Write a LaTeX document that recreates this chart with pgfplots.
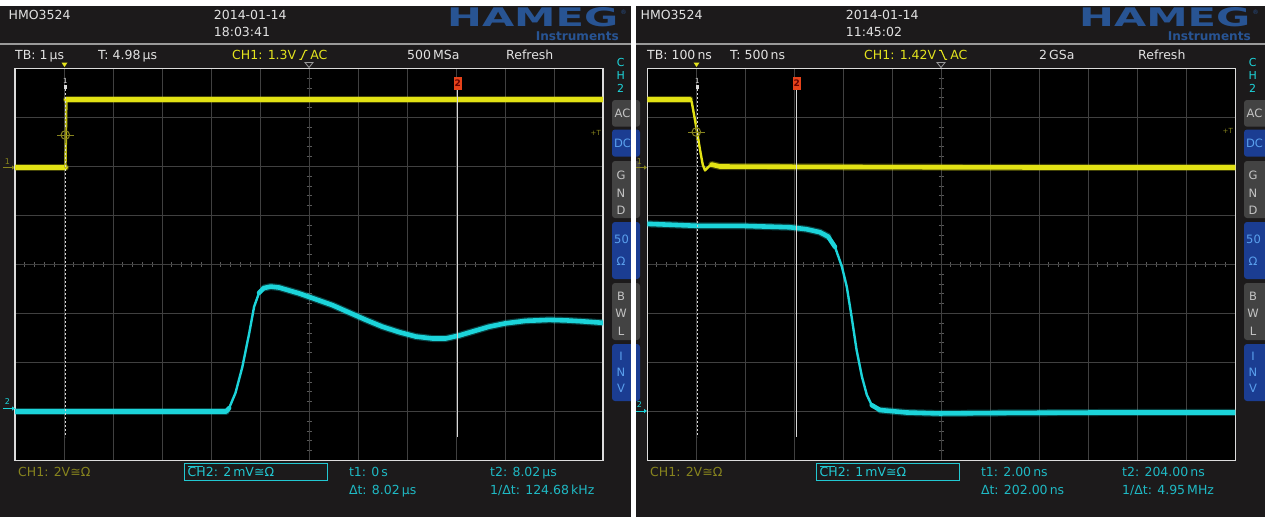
\documentclass[border=0pt]{standalone}
\usepackage{fontspec}
\setmainfont{DejaVu Sans}
\usepackage{graphicx}
\usepackage{pgfplots}
\pgfplotsset{compat=1.18}
\usetikzlibrary{arrows.meta}

\definecolor{panel}{HTML}{1C1A1B}
\definecolor{hdr}{HTML}{E2E2E2}
\definecolor{ylw}{HTML}{E4E41E}
\definecolor{trY}{HTML}{E2E214}
\definecolor{olv}{HTML}{87841E}
\definecolor{cyn}{HTML}{1CD4DA}
\definecolor{cyt}{HTML}{1FB9C4}
\definecolor{cybox}{HTML}{22C8D2}
\definecolor{logo}{HTML}{285493}
\definecolor{btng}{HTML}{434343}
\definecolor{btnb}{HTML}{1B3D92}
\definecolor{btnbt}{HTML}{5AA0EE}
\definecolor{btngt}{HTML}{C4C4C4}
\definecolor{gridc}{HTML}{404040}
\definecolor{tickc}{HTML}{5A5A5A}
\definecolor{bord}{HTML}{DCDCDC}
\definecolor{curs}{HTML}{D8D8D8}
\definecolor{mred}{HTML}{E6421A}
\definecolor{sepc}{HTML}{9A9A9A}

\newcommand{\fs}[1]{\fontsize{#1}{#1}\selectfont}
\tikzset{txt/.style={inner sep=0pt, anchor=base west, font=\fs{12.5}},
  lbl/.style={inner sep=0pt, anchor=center}}
\newcommand{\rise}{\tikz[x=1pt,y=1pt,baseline=0pt]\draw[draw=ylw,line width=1.1pt] (0,0)--(2,0)--(6,9)--(8,9);}
\newcommand{\fall}{\tikz[x=1pt,y=1pt,baseline=0pt]\draw[draw=ylw,line width=1.1pt] (0,9)--(2,9)--(6,0)--(8,0);}

\pgfplotsset{osc/.style={scale only axis, width=588pt, height=392pt, anchor=south west,
  ymin=-4, ymax=4, ytick={-3,...,3}, grid=major,
  major grid style={draw=gridc, line width=1pt},
  axis line style={draw=bord, line width=1.6pt},
  xticklabels={}, yticklabels={}, major tick length=0pt, tick style={draw=none}, clip=true},
  trk/.style={line width=4.6pt, line join=round, line cap=round, mark=none},
  trh/.style={line width=7pt, line join=round, line cap=round, mark=none, opacity=0.3},
  trn/.style={line width=2.4pt, line join=round, line cap=round, mark=none}}

% common panel decorations, #1 = horizontal offset
\newcommand{\panelcommon}[1]{%
\begin{scope}[shift={(#1,0)}]
  \draw[sepc, line width=1.5pt] (0,44) -- (633,44);
  \node[txt,text=hdr] at (8.5,19.4) {HMO3524};
  \node[txt,text=hdr] at (213.7,19.4) {2014-01-14};
  \node[inner sep=0pt, anchor=south west] at (447,27.5) {\color{logo}\resizebox{171pt}{19pt}{\bfseries HAMEG}};
  \node[txt, text=logo, font=\fs{6}] at (620.5,14) {®};
  \node[inner sep=0pt, anchor=south east] at (619,41) {\color{logo}\resizebox{83pt}{!}{\bfseries Instruments}};
  \node[txt,text=hdr] at (506,59.4) {Refresh};
  % CH2 label
  \node[lbl,text=cyn,font=\fs{11}] at (620.7,62) {C};
  \node[lbl,text=cyn,font=\fs{11}] at (620.7,75) {H};
  \node[lbl,text=cyn,font=\fs{11}] at (620.7,88) {2};
  % buttons
  \fill[btng, rounded corners=3pt] (612,100) rectangle (640,126.7);
  \fill[btnb, rounded corners=3pt] (612,129.5) rectangle (640,156.7);
  \fill[btng, rounded corners=3pt] (612,161) rectangle (640,218);
  \fill[btnb, rounded corners=3pt] (612,222) rectangle (640,279);
  \fill[btng, rounded corners=3pt] (612,283) rectangle (640,340);
  \fill[btnb, rounded corners=3pt] (612,344) rectangle (640,401);
  \node[lbl,text=btngt,font=\fs{11.5}] at (622.5,113.3) {AC};
  \node[lbl,text=btnbt,font=\fs{11.5}] at (622.5,143) {DC};
  \node[lbl,text=btngt,font=\fs{11.5}] at (621,175.7) {G};
  \node[lbl,text=btngt,font=\fs{11.5}] at (621,193.5) {N};
  \node[lbl,text=btngt,font=\fs{11.5}] at (621,210.7) {D};
  \node[lbl,text=btnbt,font=\fs{11.5}] at (621.5,239) {50};
  \node[lbl,text=btnbt,font=\fs{11.5}] at (621,261.7) {Ω};
  \node[lbl,text=btngt,font=\fs{11.5}] at (621,296) {B};
  \node[lbl,text=btngt,font=\fs{11.5}] at (621,313.5) {W};
  \node[lbl,text=btngt,font=\fs{11.5}] at (621,331) {L};
  \node[lbl,text=btnbt,font=\fs{11.5}] at (621,356.7) {I};
  \node[lbl,text=btnbt,font=\fs{11.5}] at (621,372.7) {N};
  \node[lbl,text=btnbt,font=\fs{11.5}] at (621,388.3) {V};
  % plot background and center ticks
  \fill[black] (15,68.5) rectangle (603,460.5);
  \foreach \k in {1,...,59} {\draw[tickc, line width=1pt] ({15+9.8*\k},262) -- ({15+9.8*\k},267);}
  \foreach \k in {1,...,39} {\draw[tickc, line width=1pt] (306.5,{68.5+9.8*\k}) -- (311.5,{68.5+9.8*\k});}
  % top markers
  \draw[sepc, line width=0.8pt] (305,62.5) -- (313,62.5) -- (309,67.5) -- cycle;
  \fill[ylw] (61.5,62.5) -- (67.5,62.5) -- (64.5,67) -- cycle;
  % channel markers
  \node[lbl,text=olv,font=\fs{8}] at (7.5,161.5) {1};
  \draw[olv, line width=1pt, -{Triangle[length=3pt,width=4pt]}] (3,167.5) -- (15,167.5);
  % bottom
  \node[txt,text=olv] at (18,476.7) {CH1: 2V≅Ω};
  \draw[cybox, line width=1.2pt] (184.7,463.3) rectangle (327.4,480.7);
  \draw[cybox, line width=0.8pt] (187.5,466) -- (203,466);
\end{scope}}

\begin{document}
\begin{tikzpicture}
\begin{scope}[x=1pt,y=-1pt]
  \useasboundingbox (0,0) rectangle (1265,520);
  \fill[white] (0,0) rectangle (1265,520);
  \fill[panel] (0,6) rectangle (631,516.5);
  \fill[panel] (636,6) rectangle (1265,516.5);
  \panelcommon{0}
  \panelcommon{632}
  \fill[white] (631,0) rectangle (636,520);
  % ---- left texts
  \node[txt,text=hdr] at (213.7,36) {18:03:41};
  \node[txt,text=hdr] at (15,59.4) {TB: 1\,µs};
  \node[txt,text=hdr] at (98,59.4) {T: 4.98\,µs};
  \node[txt,text=ylw] at (232,59.4) {CH1: 1.3V\hspace{2.5pt}\rise\hspace{2.5pt}AC};
  \node[txt,text=hdr] at (407,59.4) {500\,MSa};
  \node[txt,text=cybox] at (187.5,476.7) {CH2: 2\,mV≅Ω};
  \node[txt,text=cyt] at (348.8,476.7) {t1: 0\,s};
  \node[txt,text=cyt] at (348.8,494) {Δt: 8.02\,µs};
  \node[txt,text=cyt] at (490,476.7) {t2: 8.02\,µs};
  \node[txt,text=cyt] at (490,494) {1/Δt: 124.68\,kHz};
  % ---- right texts
  \node[txt,text=hdr] at (845.7,36) {11:45:02};
  \node[txt,text=hdr] at (647,59.4) {TB: 100\,ns};
  \node[txt,text=hdr] at (730,59.4) {T: 500\,ns};
  \node[txt,text=ylw] at (864,59.4) {CH1: 1.42V\hspace{2.5pt}\fall\hspace{2.5pt}AC};
  \node[txt,text=hdr] at (1039,59.4) {2\,GSa};
  \node[txt,text=cybox] at (819.5,476.7) {CH2: 1\,mV≅Ω};
  \node[txt,text=cyt] at (980.8,476.7) {t1: 2.00\,ns};
  \node[txt,text=cyt] at (980.8,494) {Δt: 202.00\,ns};
  \node[txt,text=cyt] at (1122,476.7) {t2: 204.00\,ns};
  \node[txt,text=cyt] at (1122,494) {1/Δt: 4.95\,MHz};
\end{scope}

% ================= LEFT SCREEN =================
\begin{axis}[osc, at={(15pt,-460.5pt)}, xmin=-1, xmax=11, xtick={0,...,10}]
  % CH1 yellow
  \addplot[trh, draw=trY] coordinates {(-1,1.98) (0.03,1.98)};
  \addplot[trk, draw=trY] coordinates {(-1,1.98) (0.03,1.98)};
  \addplot[trn, draw=trY!80!black] coordinates {(0.03,1.98) (0.05,3.37)};
  \addplot[trh, draw=trY] coordinates {(0.05,3.37) (11,3.37)};
  \addplot[trk, draw=trY] coordinates {(0.05,3.37) (11,3.37)};
  % CH2 cyan
  \addplot[trh, draw=cyn] coordinates {(-1,-3.0) (3.31,-3.0)};
  \addplot[trk, draw=cyn] coordinates {(-1,-3.0) (3.31,-3.0) (3.37,-2.93)};
  \addplot[trn, draw=cyn] coordinates {(3.31,-3.0) (3.37,-2.93) (3.50,-2.62) (3.64,-2.09) (3.78,-1.40) (3.88,-0.86) (3.98,-0.58) (4.08,-0.48)};
  \addplot[trh, draw=cyn] coordinates {(4.08,-0.48) (4.22,-0.45) (4.39,-0.47) (4.80,-0.59) (5.14,-0.71) (5.48,-0.83) (5.82,-0.98) (6.16,-1.13) (6.50,-1.27) (6.84,-1.38) (7.18,-1.47) (7.52,-1.51) (7.79,-1.51) (8.06,-1.45) (8.33,-1.37) (8.67,-1.27) (9.01,-1.20) (9.42,-1.15) (9.90,-1.13) (10.24,-1.14) (10.58,-1.16) (11,-1.19)};
  \addplot[trk, draw=cyn] coordinates {(3.98,-0.58) (4.08,-0.48) (4.22,-0.45) (4.39,-0.47) (4.80,-0.59) (5.14,-0.71) (5.48,-0.83) (5.82,-0.98) (6.16,-1.13) (6.50,-1.27) (6.84,-1.38) (7.18,-1.47) (7.52,-1.51) (7.79,-1.51) (8.06,-1.45) (8.33,-1.37) (8.67,-1.27) (9.01,-1.20) (9.42,-1.15) (9.90,-1.13) (10.24,-1.14) (10.58,-1.16) (11,-1.19)};
\end{axis}

% ================= RIGHT SCREEN =================
\begin{axis}[osc, at={(647.3pt,-460.5pt)}, xmin=-100, xmax=1100, xtick={0,100,...,1000}]
  % CH1 yellow
  \addplot[trh, draw=trY] coordinates {(-100,3.37) (-12.9,3.37)};
  \addplot[trk, draw=trY] coordinates {(-100,3.37) (-12.9,3.37)};
  \addplot[trn, draw=trY] coordinates {(-12.9,3.37) (-9.4,3.32) (-2.7,2.95) (2,2.68) (7.6,2.34) (13.1,2.04) (17.8,1.92) (24.5,1.99) (31.4,2.04) (48.4,2.0)};
  \addplot[trh, draw=trY] coordinates {(31.4,2.04) (48.4,2.0) (300,1.99) (700,1.98) (1100,1.98)};
  \addplot[trk, draw=trY] coordinates {(31.4,2.04) (48.4,2.0) (300,1.99) (700,1.98) (1100,1.98)};
  % CH2 cyan
  \addplot[trh, draw=cyn] coordinates {(-100,0.83) (0.8,0.79) (89,0.79) (191,0.76) (225,0.72) (252,0.66) (269,0.57)};
  \addplot[trk, draw=cyn] coordinates {(-100,0.83) (0.8,0.79) (89,0.79) (191,0.76) (225,0.72) (252,0.66) (269,0.57) (283,0.36)};
  \addplot[trn, draw=cyn] coordinates {(269,0.57) (283,0.36) (297,-0.04) (307,-0.45) (317,-1.07) (327,-1.74) (338,-2.29) (348,-2.66) (358,-2.87) (375,-2.97)};
  \addplot[trh, draw=cyn] coordinates {(375,-2.97) (429,-3.02) (497,-3.04) (620,-3.03) (824,-3.02) (1100,-3.02)};
  \addplot[trk, draw=cyn] coordinates {(358,-2.87) (375,-2.97) (429,-3.02) (497,-3.04) (620,-3.03) (824,-3.02) (1100,-3.02)};
\end{axis}

% ================= OVERLAYS =================
\begin{scope}[x=1pt,y=-1pt]
  % left cursors
  \draw[curs, line width=1.2pt, dash pattern=on 2pt off 2pt] (65.3,89) -- (65.3,437);
  \fill[curs] (63.5,84.5) rectangle (67.2,88.5);
  \node[lbl,text=curs,font=\fs{7}] at (65.3,80.5) {1};
  \draw[curs, line width=1.5pt] (457.7,90) -- (457.7,437);
  \fill[mred] (453.7,77.3) rectangle (461.7,89.5);
  \node[lbl,text=black!60!red,font=\bfseries\fs{9}] at (457.7,83.5) {2};
  % left trigger crosshair and level
  \draw[olv, line width=1pt] (65.3,135) circle (4.3pt);
  \draw[olv, line width=0.8pt] (57,135) -- (73.6,135) (65.3,127) -- (65.3,143);
  \node[inner sep=0pt, anchor=east, text=olv, font=\fs{7}] at (601,133) {+T};
  \node[lbl,text=cyn,font=\fs{8}] at (7.5,402) {2};
  \draw[cyn, line width=1pt, -{Triangle[length=3pt,width=4pt]}] (3,408.5) -- (15,408.5);
  % right cursors
  \draw[curs, line width=1.2pt, dash pattern=on 2pt off 2pt] (697.3,89) -- (697.3,437);
  \fill[curs] (695.5,84.5) rectangle (699.2,88.5);
  \node[lbl,text=curs,font=\fs{7}] at (697.3,80.5) {1};
  \draw[curs, line width=1.5pt] (796.7,90) -- (796.7,437);
  \fill[mred] (792.7,77.3) rectangle (800.7,89.5);
  \node[lbl,text=black!60!red,font=\bfseries\fs{9}] at (796.7,83.5) {2};
  \draw[olv, line width=1pt] (696.3,132) circle (4.3pt);
  \draw[olv, line width=0.8pt] (688,132) -- (704.6,132) (696.3,124) -- (696.3,140);
  \node[inner sep=0pt, anchor=east, text=olv, font=\fs{7}] at (1233,131) {+T};
  \node[lbl,text=cyn,font=\fs{8}] at (639.5,404.5) {2};
  \draw[cyn, line width=1pt, -{Triangle[length=3pt,width=4pt]}] (636,411) -- (647,411);
\end{scope}
\end{tikzpicture}
\end{document}
